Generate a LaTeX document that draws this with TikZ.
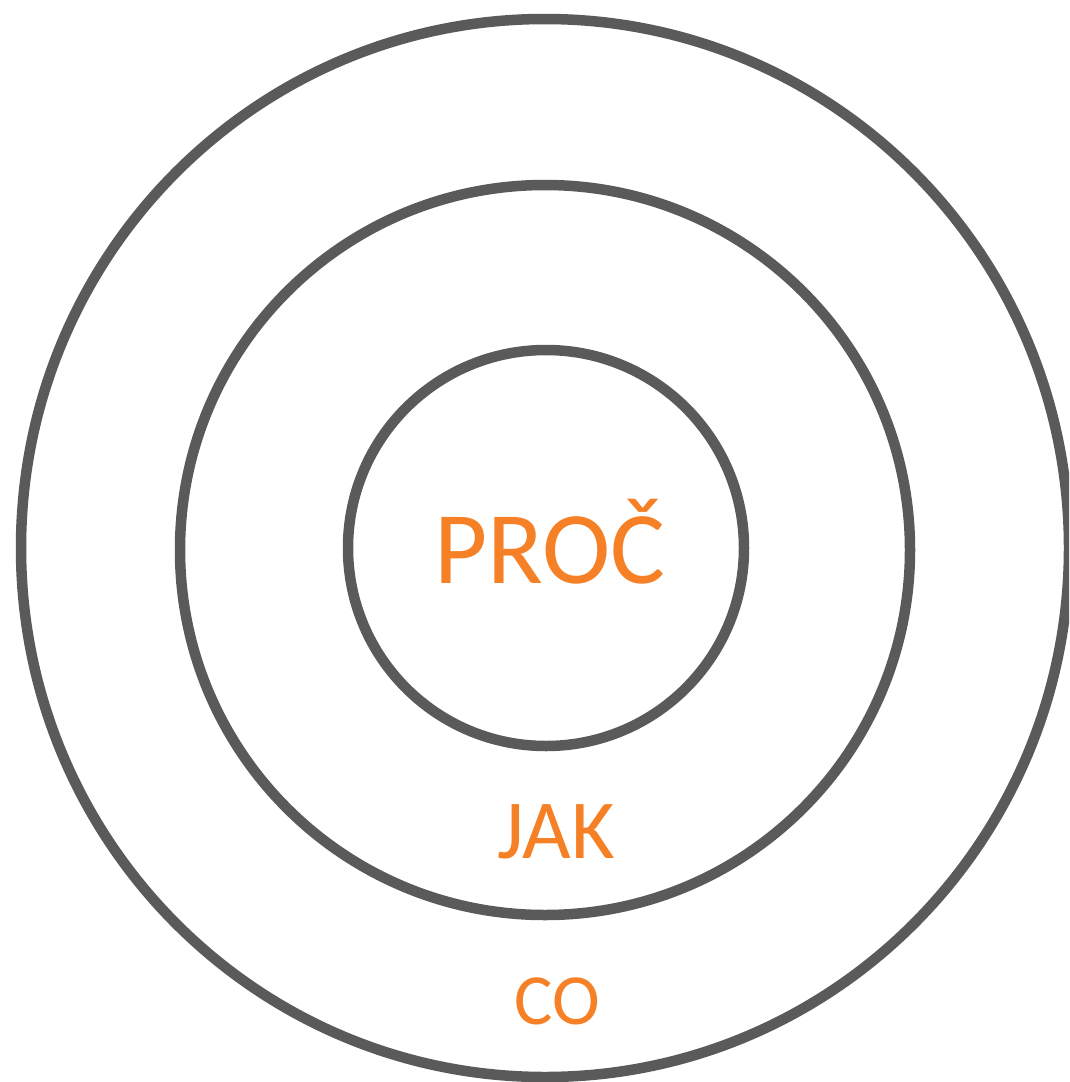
\documentclass[tikz,border=0pt]{standalone}
\usepackage{fontspec}
\setmainfont{Carlito}
\usepackage{xcolor}
\definecolor{ringgray}{RGB}{90, 90, 90}
\definecolor{wordorange}{RGB}{245, 128, 37}

\begin{document}
\begin{tikzpicture}[
        x=1pt, y=-1pt,
        ring/.style={draw=ringgray, line width=10.5pt},
        word/.style={text=wordorange, anchor=base, inner sep=0pt}
      ]
        \useasboundingbox (0,0) rectangle (1069,1082);
        \clip (0,0) rectangle (1069,1082);

        % rings
        \draw[ring] (545,548) ellipse [x radius=524, y radius=529];
        \draw[ring] (545,550) ellipse [x radius=365, y radius=365];
        \draw[ring] (546,548) ellipse [x radius=198, y radius=198];

        % labels
        \node[word, font=\fontsize{103}{103}\selectfont] (why) at (550,583) {PROČ};
        \node[word, font=\fontsize{84}{84}\selectfont] (how) at (556,858) {JAK};
        \node[word, font=\fontsize{72}{72}\selectfont] (what) at (557,1024) {CO};
      \end{tikzpicture}
\end{document}
